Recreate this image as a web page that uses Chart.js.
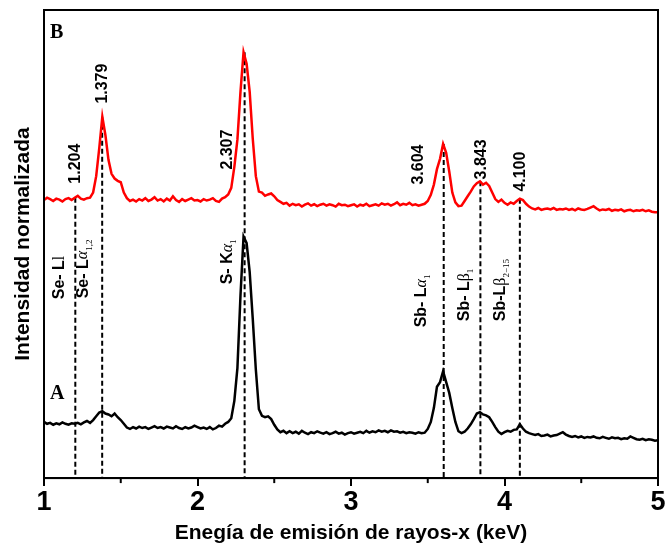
<!DOCTYPE html>
<html>
<head>
<meta charset="utf-8">
<script src="https://cdn.jsdelivr.net/npm/chart.js@4"></script>
<style>
  body { margin: 0; background: #fff; }
  canvas { display: block; }
</style>
</head>
<body>
<canvas id="graph" width="665" height="546"></canvas>
<script>
// energy sampling of both spectra (keV)
const energyStart = 1.0;
const energyStep = 0.02;

// spectrum B (red), normalized intensity, one row = 0.2 keV
const spectrumB = [
  59.4, 59.9, 59.6, 59.2, 59.7, 59.5, 59.1, 59.6, 59.8, 59.4,
  59.9, 60.3, 59.7, 59.5, 59.8, 59.9, 61.0, 64.5, 70.5, 77.2,
  73.3, 68.0, 65.0, 64.0, 63.5, 63.2, 61.0, 59.8, 59.2, 59.5,
  59.1, 59.6, 59.3, 59.8, 59.2, 59.5, 60.0, 59.3, 59.6, 59.1,
  59.7, 59.3, 60.2, 59.4, 59.0, 59.6, 59.2, 59.5, 59.8, 59.3,
  59.4, 59.1, 59.6, 59.3, 59.5, 59.8, 59.2, 59.0, 59.7, 60.0,
  60.6, 62.0, 66.5, 72.3, 82.5, 91.0, 88.5, 82.5, 72.5, 64.5,
  61.2, 61.0, 60.3, 60.6, 60.8, 60.2, 59.4, 59.0, 58.6, 58.8,
  58.2, 58.6, 58.3, 58.5, 58.0, 58.4, 58.7, 58.2, 58.5, 58.1,
  58.4, 58.6, 58.2, 58.5, 58.3, 58.0, 58.6, 58.3, 58.4, 58.1,
  58.3, 58.5, 58.0, 58.4, 58.2, 58.6, 58.1, 58.3, 58.5, 58.2,
  58.7, 58.4, 58.6, 58.2, 58.5, 58.9, 58.3, 58.6, 58.4, 58.8,
  58.3, 58.5, 58.2, 58.4, 58.6, 59.2, 60.5, 62.7, 66.0, 68.2,
  71.4, 69.5, 65.5, 61.0, 58.9, 58.1, 58.2, 59.2, 60.2, 61.2,
  62.3, 63.0, 63.4, 62.7, 63.1, 62.4, 61.0, 59.6, 59.0, 59.5,
  58.8, 58.4, 58.9, 58.6, 59.2, 59.7, 59.4, 58.6, 58.0, 57.6,
  57.4, 57.7, 57.3, 57.5, 57.6, 57.4, 57.7, 57.3, 57.5, 57.4,
  57.6, 57.3, 57.5, 57.2, 57.6, 57.4, 57.3, 57.5, 57.8, 58.1,
  57.6, 57.2, 57.4, 57.3, 57.5, 57.1, 57.3, 57.2, 57.4, 57.0,
  57.2, 57.3, 57.0, 57.2, 57.1, 57.3, 57.0, 57.2, 56.9, 56.8,
  56.8
];

// spectrum A (black)
const spectrumA = [
  12.0, 11.6, 11.8, 11.4, 11.7, 11.5, 11.9, 11.6, 11.4, 11.7,
  11.6, 11.8, 11.5, 11.9, 12.2, 11.8, 12.4, 13.2, 14.0, 14.3,
  13.8, 13.6, 13.2, 13.8, 13.0, 12.4, 11.6, 10.8, 10.5, 10.9,
  10.6, 11.0, 10.7, 10.9, 10.5, 10.8, 11.1, 10.7, 10.9, 10.6,
  11.0, 10.8, 10.6, 11.1, 10.7, 10.5, 10.9, 10.6, 10.8, 11.2,
  10.9, 10.6, 10.8, 10.5, 10.9, 10.4, 10.7, 11.2, 11.0, 11.6,
  12.0, 12.8, 16.5, 23.5, 39.0, 51.6, 50.2, 44.0, 34.0, 23.2,
  14.7, 13.3, 13.0, 13.2, 12.6, 11.4, 10.4, 9.8, 10.1, 9.6,
  10.0, 9.6, 9.9, 9.5, 10.1, 9.7, 9.4, 9.8, 9.6, 10.0,
  9.7, 9.5, 9.8, 9.4, 9.6, 9.9, 9.5, 9.7, 9.3, 9.6,
  9.8, 9.5, 9.7, 9.9, 9.6, 10.1, 9.7, 10.0, 9.8, 10.2,
  9.9, 10.1, 9.8, 10.2, 9.9, 10.0, 9.7, 9.9, 9.6, 9.8,
  9.7, 9.5, 9.8, 9.6, 9.7, 10.5, 12.0, 15.0, 19.5, 20.5,
  22.8, 20.5, 18.2, 15.0, 12.0, 10.0, 9.6, 9.9, 10.6, 11.5,
  12.6, 13.8, 14.1, 13.6, 13.4, 13.0, 12.0, 10.9, 9.9, 9.4,
  9.8, 10.1, 9.9, 10.3, 10.4, 11.5, 10.6, 9.9, 9.6, 9.4,
  9.2, 9.4, 9.0, 9.1, 9.3, 8.9, 9.1, 9.2, 9.5, 9.8,
  9.3, 9.0, 8.8, 9.0, 8.7, 8.9, 8.6, 8.8, 8.7, 8.9,
  8.6, 8.5, 8.8, 8.6, 8.4, 8.7, 8.5, 8.6, 8.3, 8.5,
  8.4, 8.9, 8.6, 8.3, 8.2, 8.4, 8.1, 8.3, 8.2, 8.0,
  8.1
];

// emission lines (keV) and their labels
const peakEnergies = [1.204, 1.379, 2.307, 3.604, 3.843, 4.100];
const peakLabels = ['1.204', '1.379', '2.307', '3.604', '3.843', '4.100'];
// where each number label starts (intensity units) and its sideways shift (px)
const peakLabelAt = [62.9, 80.0, 65.9, 62.7, 63.8, 61.2];
const peakLabelShift = [0, 0, -17, -25, 1, 1];

const lineNames = ['Se- Ll', 'Se- Lα1,2', 'S- Kα1', 'Sb- Lα1', 'Sb- Lβ1', 'Sb-Lβ2-15'];
const lineNameAt = [38.2, 38.4, 41.4, 32.2, 33.5, 33.5];
const lineNameShift = [-16, -19, -17, -22, -16, -19];

const xTicks = [1, 2, 3, 4, 5];
const minorTicks = [1.5, 2.5, 3.5, 4.5];

const SANS = 'bold 16px "Liberation Sans", Arial, sans-serif';
const SERIF = '16px "Liberation Serif", "Times New Roman", serif';
const GREEK = 'italic 16px "Liberation Serif", "Times New Roman", serif';
const SUB = '9px "Liberation Serif", "Times New Roman", serif';

const toPoints = arr => arr.map((v, i) => ({ x: energyStart + i * energyStep, y: v }));
const valueAt = (arr, e) => arr[Math.round((e - energyStart) / energyStep)];

// pieces of each line name: plain text, greek letter, subscript
const nameParts = name => {
  const m = name.match(/^(.*?)([αβl])(.*)$/);
  const parts = [{ text: m[1], font: SANS }];
  if (m[2] === 'l') {
    parts.push({ text: 'l', font: SERIF });
  } else {
    parts.push({ text: m[2], font: m[2] === 'α' ? GREEK : SERIF });
    parts.push({ text: m[3].replace('-', '\u2212'), font: SUB, shift: 6 });
  }
  return parts;
};

// draw text reading upwards, starting at (px, py)
function drawUp(ctx, px, py, parts) {
  ctx.save();
  ctx.translate(px, py);
  ctx.rotate(-Math.PI / 2);
  ctx.textBaseline = 'middle';
  ctx.textAlign = 'left';
  ctx.fillStyle = '#000';
  let cx = 0;
  parts.forEach(p => {
    ctx.font = p.font;
    ctx.fillText(p.text, cx, p.shift || 0);
    cx += ctx.measureText(p.text).width;
  });
  ctx.restore();
}

const decorations = {
  id: 'decorations',
  beforeDatasetsDraw(chart) {
    const { ctx, chartArea, scales: { x, y } } = chart;
    ctx.save();
    ctx.strokeStyle = '#000';
    ctx.lineWidth = 2;
    ctx.setLineDash([5, 3]);
    peakEnergies.forEach(e => {
      const px = x.getPixelForValue(e);
      ctx.beginPath();
      ctx.moveTo(px, y.getPixelForValue(valueAt(spectrumB, e)));
      ctx.lineTo(px, chartArea.bottom);
      ctx.stroke();
    });
    ctx.restore();
  },
  afterDraw(chart) {
    const { ctx, chartArea, scales: { x, y } } = chart;
    ctx.save();
    // box around the plot
    ctx.strokeStyle = '#000';
    ctx.lineWidth = 2;
    ctx.strokeRect(chartArea.left, chartArea.top, chartArea.right - chartArea.left, chartArea.bottom - chartArea.top);
    // minor ticks
    minorTicks.forEach(v => {
      const px = x.getPixelForValue(v);
      ctx.beginPath();
      ctx.moveTo(px, chartArea.bottom);
      ctx.lineTo(px, chartArea.bottom + 5);
      ctx.stroke();
    });
    // panel letters
    ctx.fillStyle = '#000';
    ctx.font = 'bold 20px "Liberation Serif", "Times New Roman", serif';
    ctx.textBaseline = 'alphabetic';
    ctx.fillText('B', chartArea.left + 6, chartArea.top + 28);
    ctx.fillText('A', chartArea.left + 6, y.getPixelForValue(16.8));
    ctx.restore();

    peakEnergies.forEach((e, i) => {
      drawUp(ctx, x.getPixelForValue(e) + peakLabelShift[i], y.getPixelForValue(peakLabelAt[i]),
        [{ text: peakLabels[i], font: SANS }]);
      drawUp(ctx, x.getPixelForValue(e) + lineNameShift[i], y.getPixelForValue(lineNameAt[i]),
        nameParts(lineNames[i]));
    });
  }
};

new Chart(document.getElementById('graph'), {
  type: 'line',
  data: {
    datasets: [
      {
        label: 'B',
        data: toPoints(spectrumB),
        borderColor: '#ff0000',
        borderWidth: 2.5,
        pointRadius: 0,
        tension: 0
      },
      {
        label: 'A',
        data: toPoints(spectrumA),
        borderColor: '#000000',
        borderWidth: 2.5,
        pointRadius: 0,
        tension: 0
      }
    ]
  },
  options: {
    responsive: false,
    animation: false,
    layout: { padding: { top: 10, right: 7, left: 0, bottom: 0 } },
    plugins: { legend: { display: false }, tooltip: { enabled: false } },
    scales: {
      x: {
        type: 'linear',
        min: 1,
        max: 5,
        afterBuildTicks: scale => { scale.ticks = xTicks.map(v => ({ value: v })); },
        // let the "5" label hang past the right edge of the box
        afterFit: scale => { scale.paddingRight = 7; },
        ticks: {
          color: '#000',
          padding: 4,
          font: { family: '"Liberation Sans", Arial, sans-serif', size: 27, weight: 'bold', lineHeight: 0.9 }
        },
        grid: { display: true, drawOnChartArea: false, drawTicks: true, tickLength: 8, color: '#000', lineWidth: 2 },
        border: { display: true, color: '#000', width: 2 },
        title: {
          display: true,
          text: 'Enegía de emisión de rayos-x (keV)',
          color: '#000',
          padding: { top: 2.4, bottom: 0 },
          font: { family: '"Liberation Sans", Arial, sans-serif', size: 21, weight: 'bold', lineHeight: 1.2 }
        }
      },
      y: {
        min: 0,
        max: 100,
        ticks: { display: false },
        grid: { display: false, drawTicks: false },
        border: { display: true, color: '#000', width: 2 },
        title: {
          display: true,
          text: 'Intensidad normalizada',
          color: '#000',
          padding: { top: 10.4, bottom: 8.4 },
          font: { family: '"Liberation Sans", Arial, sans-serif', size: 21, weight: 'bold', lineHeight: 1.2 }
        }
      }
    }
  },
  plugins: [decorations]
});
</script>
</body>
</html>
